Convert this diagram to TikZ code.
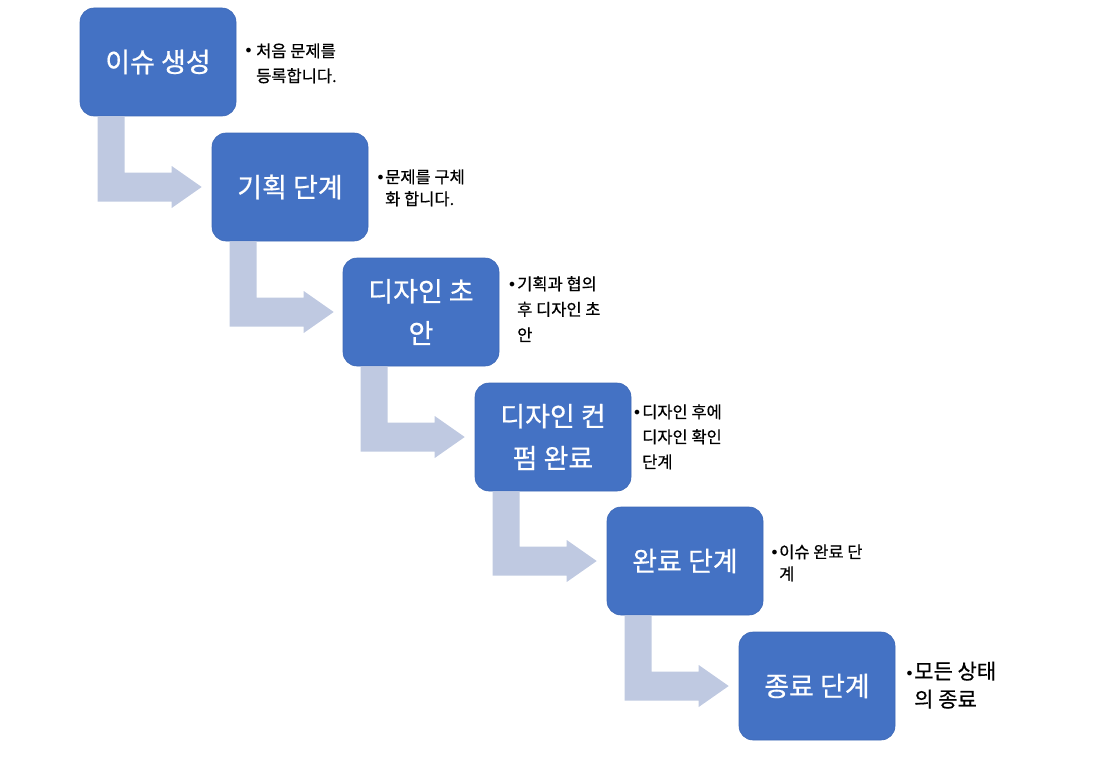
\documentclass[tikz,border=0pt]{standalone}
\usepackage{fontspec}
\setmainfont{Noto Sans CJK KR}[FakeBold=0.6]
\newfontfamily\bulletfont{DejaVu Sans}
\usetikzlibrary{calc}
\definecolor{boxblue}{HTML}{4472C4}
\definecolor{boxedge}{HTML}{3D68B6}
\definecolor{arrowgrey}{HTML}{BFC9E1}
\newcommand{\bul}[1]{\llap{{\bulletfont\fontsize{16}{16}\selectfont•}\hspace{#1}}}
\begin{document}
\begin{tikzpicture}[x=1pt,y=-1pt,
  stage/.style={rectangle, rounded corners=14pt, fill=boxblue, draw=boxedge,
    line width=0.6pt, minimum width=156pt, minimum height=108pt, text=white,
    font=\fontsize{27}{42}\selectfont, align=center, inner sep=0pt},
  note/.style={anchor=base west, align=left, inner sep=0pt,
    font=\fontsize{16.5}{25}\selectfont},
  bentarrow/.style={fill=arrowgrey, draw=none}]
\useasboundingbox (0,0) rectangle (1107,781);

% stages
\node[stage] (b1) at (158,62)  {이슈 생성};
\node[stage] (b2) at (290,187) {기획 단계};
\node[stage] (b3) at (421,312) {디자인 초\\안};
\node[stage] (b4) at (553,437) {디자인 컨\\펌 완료};
\node[stage] (b5) at (685,561) {완료 단계};
\node[stage] (b6) at (817,686) {종료 단계};

% notes (anchored at the baseline of their last line)
\node[note] (n1) at (256,82)  {\bul{3pt}처음 문제를\\등록합니다.};
\node[note, font=\fontsize{16.5}{22}\selectfont] (n2) at (385,205) {\bul{0pt}문제를 구체\\화 합니다.};
\node[note, font=\fontsize{16.5}{25.5}\selectfont] (n3) at (517,341) {\bul{0.5pt}기획과 협의\\후 디자인 초\\안};
\node[note] (n4) at (642,468) {\bul{0.5pt}디자인 후에\\디자인 확인\\단계};
\node[note, font=\fontsize{16.5}{22}\selectfont] (n5) at (779,580) {\bul{0pt}이슈 완료 단\\계};
\node[note, font=\fontsize{21}{28}\selectfont] (n6) at (914,707) {\bul{0pt}모든 상태\\의 종료};

% bent arrows
\foreach \a/\b in {b1/b2, b2/b3, b3/b4, b4/b5, b5/b6}
  \path let \p1=(\a.south west), \p2=(\b.west) in
    [bentarrow] (\x1+18pt,\y1) -- (\x1+18pt,\y2-14.5pt) -- (\x1+92pt,\y2-14.5pt)
    -- (\x1+92pt,\y2-21pt) -- (\x1+122pt,\y2) -- (\x1+92pt,\y2+21pt)
    -- (\x1+92pt,\y2+14.5pt) -- (\x1+45pt,\y2+14.5pt) -- (\x1+45pt,\y1) -- cycle;
\end{tikzpicture}
\end{document}
